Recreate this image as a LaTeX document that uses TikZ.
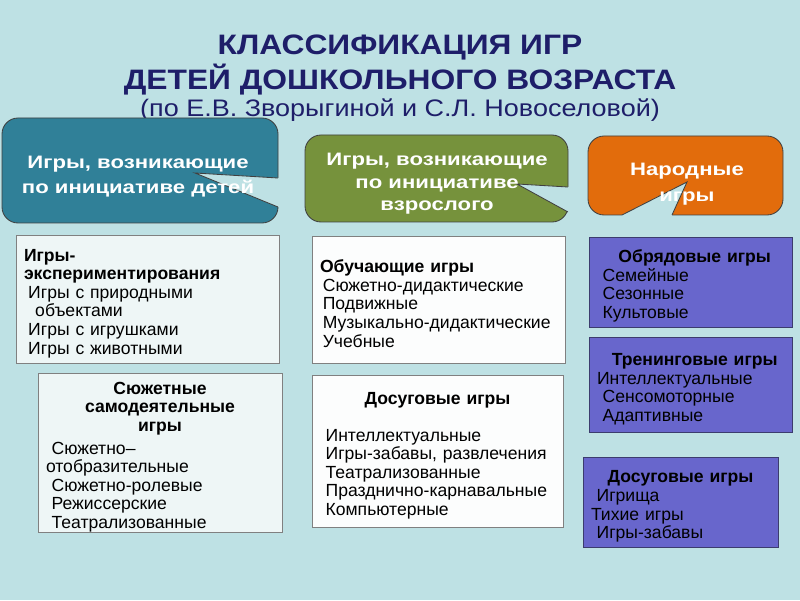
\documentclass[tikz,border=0pt]{standalone}
\usepackage{fontspec}
\setmainfont{Liberation Sans}
\newfontfamily\titlefont[FakeStretch=1.13]{Liberation Sans}
\newfontfamily\calloutfont[FakeStretch=1.23]{Liberation Sans}
\definecolor{slidebg}{RGB}{190,225,228}
\definecolor{titleblue}{RGB}{30,30,105}
\definecolor{tealfill}{RGB}{48,128,152}
\definecolor{olivefill}{RGB}{118,146,60}
\definecolor{orangefill}{RGB}{226,108,12}
\definecolor{violetfill}{RGB}{104,102,204}
\definecolor{violetedge}{RGB}{60,60,110}
\definecolor{palefill}{RGB}{238,246,246}
\definecolor{whitefill}{RGB}{252,253,253}
\newcommand\ctrline[1]{\makebox[\hsize]{#1}}
\tikzset{
  titletext/.style={text=titleblue,anchor=base,inner sep=0pt},
  calloutline/.style={draw=black!75,line width=0.6pt},
  callouttext/.style={text=white,align=center,font=\calloutfont\bfseries\fontsize{12.8}{17.5}\selectfont},
  listbox/.style={line width=0.6pt,align=left,inner xsep=0.2cm,inner ysep=0pt,
    font=\fontsize{12.5}{13.2}\selectfont,execute at begin node={\rule{0pt}{15pt}}},
  palebox/.style={listbox,draw=black!50,fill=palefill},
  whitebox/.style={listbox,draw=black!50,fill=whitefill},
  violetbox/.style={listbox,draw=violetedge,fill=violetfill}
}
\begin{document}
\begin{tikzpicture}
\fill[slidebg](0,0)rectangle(20,15); %slide
%title
\node[titletext,font=\titlefont\bfseries\fontsize{20}{20}\selectfont](title1)at(10,13.625){КЛАССИФИКАЦИЯ ИГР};
\node[titletext,font=\titlefont\bfseries\fontsize{20}{20}\selectfont](title2)at(10,12.75){ДЕТЕЙ ДОШКОЛЬНОГО ВОЗРАСТА};
\node[titletext,font=\titlefont\fontsize{17}{17}\selectfont](title3)at(10,12.075){(по Е.В. Зворыгиной и С.Л. Новоселовой)};
%callouts
\draw[calloutline,fill=tealfill,rounded corners=0.4cm](0.05,9.425)rectangle(6.95,12.05);
\fill[slidebg](4.875,10.675)--(6.95,10.55)--(7.05,10.55)--(7.05,9.825)--(6.95,9.825)--cycle; %notch
\draw[calloutline](6.95,10.55)--(4.875,10.675)--(6.95,9.825);
\draw[calloutline,fill=olivefill,rounded corners=0.4cm](7.625,9.45)rectangle(14.2,11.625);
\fill[slidebg](12.925,10.4)--(14.2,10.325)--(14.3,10.325)--(14.3,9.7)--(14.2,9.7)--cycle; %notch
\draw[calloutline](14.2,10.325)--(12.925,10.4)--(14.2,9.7);
\draw[calloutline,fill=orangefill,rounded corners=0.4cm](14.7,9.625)rectangle(19.575,11.6);
\fill[slidebg](15.55,9.625)--(17.175,10.45)--(16.8,9.625)--(16.8,9.55)--(15.55,9.55)--cycle; %notch
\draw[calloutline](15.55,9.625)--(17.175,10.45)--(16.8,9.625);
\node[callouttext](childgames)at(3.45,10.59){Игры, возникающие\\по инициативе детей};
\node[callouttext,font=\calloutfont\bfseries\fontsize{12.8}{16}\selectfont](adultgames)at(10.925,10.40){Игры, возникающие\\по инициативе\\взрослого};
\node[callouttext,font=\calloutfont\bfseries\fontsize{12.8}{18.5}\selectfont](folkgames)at(17.175,10.39){Народные\\игры};
%left column
\node[palebox,minimum height=3.2cm,text width=6.175cm](expgames)at(3.6875,7.525){
\textbf{Игры-}\\
\textbf{экспериментирования}\\
\hspace*{3pt}Игры с природными\\
\hspace*{8pt}объектами\\
\hspace*{3pt}Игры с игрушками\\
\hspace*{3pt}Игры с животными};
\node[palebox,minimum height=3.975cm,text width=5.7cm](plotgames)at(4.0,3.6875){
\ctrline{\textbf{Сюжетные}}\\
\ctrline{\textbf{самодеятельные}}\\
\ctrline{\textbf{игры}}\\[3pt]
\hspace*{4pt}Сюжетно–\\
отобразительные\\
\hspace*{4pt}Сюжетно-ролевые\\
\hspace*{4pt}Режиссерские\\
\hspace*{4pt}Театрализованные};
%middle column
\node[whitebox,minimum height=3.175cm,text width=5.925cm](teachgames)at(10.9625,7.5125){
\textbf{Обучающие игры}\\
\hspace*{2pt}Сюжетно-дидактические\\
\hspace*{2pt}Подвижные\\
\hspace*{2pt}Музыкально-дидактические\\
\hspace*{2pt}Учебные};
\node[whitebox,minimum height=3.8cm,text width=5.875cm](leisuregames)at(10.9375,3.725){
\ctrline{\textbf{Досуговые игры}}\\[13.2pt]
\hspace*{4pt}Интеллектуальные\\
\hspace*{4pt}Игры-забавы, развлечения\\
\hspace*{4pt}Театрализованные\\
\hspace*{4pt}Празднично-карнавальные\\
\hspace*{4pt}Компьютерные};
%right column
\node[violetbox,minimum height=2.25cm,text width=4.675cm](ritegames)at(17.2625,7.95){
\ctrline{\hspace*{6pt}\textbf{Обрядовые игры}}\\
\hspace*{4pt}Семейные\\
\hspace*{4pt}Сезонные\\
\hspace*{4pt}Культовые};
\node[violetbox,minimum height=2.375cm,text width=4.675cm](traingames)at(17.2625,5.3875){
\ctrline{\hspace*{6pt}\textbf{Тренинговые игры}}\\
Интеллектуальные\\
\hspace*{4pt}Сенсомоторные\\
\hspace*{4pt}Адаптивные};
\node[violetbox,minimum height=2.25cm,text width=4.475cm](folkleisure)at(17.0125,2.45){
\ctrline{\textbf{Досуговые игры}}\\
\hspace*{4pt}Игрища\\
Тихие игры\\
\hspace*{4pt}Игры-забавы};
\end{tikzpicture}
\end{document}
